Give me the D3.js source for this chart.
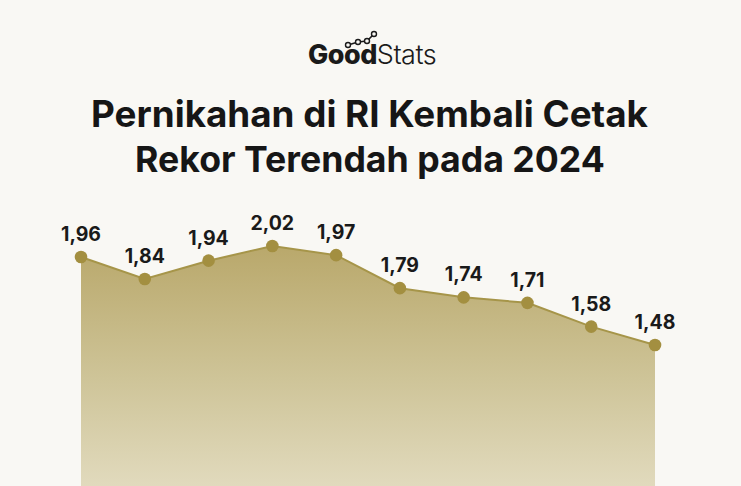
<!DOCTYPE html>
<html><head><meta charset="utf-8">
<script src="https://cdn.jsdelivr.net/npm/d3@7"></script>
<style>
html,body{margin:0;padding:0;background:#f9f8f4;}
svg{display:block;}
</style></head>
<body>
<script>
const years = [2015, 2016, 2017, 2018, 2019, 2020, 2021, 2022, 2023, 2024];
const marriages = [1.96, 1.84, 1.94, 2.02, 1.97, 1.79, 1.74, 1.71, 1.58, 1.48];
const valueLabels = ["1,96", "1,84", "1,94", "2,02", "1,97", "1,79", "1,74", "1,71", "1,58", "1,48"];
const titleLines = ["Pernikahan di RI Kembali Cetak", "Rekor Terendah pada 2024"];

const W = 741, H = 486;
const data = years.map((y, i) => ({year: y, value: marriages[i], label: valueLabels[i]}));

const svg = d3.select("body").append("svg").attr("width", W).attr("height", H);
svg.append("rect").attr("width", W).attr("height", H).attr("fill", "#f9f8f4");

const x = d3.scalePoint().domain(years).range([81, 655]);
const y = d3.scaleLinear().domain([1.48, 2.02]).range([345, 246]);

const defs = svg.append("defs");
const grad = defs.append("linearGradient").attr("id", "areaGrad")
  .attr("gradientUnits", "userSpaceOnUse").attr("x1", 0).attr("x2", 0).attr("y1", 246).attr("y2", H);
grad.append("stop").attr("offset", "0%").attr("stop-color", "#b9a86b");
grad.append("stop").attr("offset", "55%").attr("stop-color", "#cec498");
grad.append("stop").attr("offset", "100%").attr("stop-color", "#e1dabd");

// Logo
const logo = svg.append("g");
const logoText = logo.append("text").attr("x", 308).attr("y", 64).attr("text-anchor", "start")
  .attr("font-family", "Inter, 'Open Sans', sans-serif").attr("font-size", 26).attr("fill", "#1a1a1a")
  .attr("letter-spacing", "-0.5");
logoText.append("tspan").attr("font-weight", 800).text("Good");
logoText.append("tspan").attr("font-weight", 300).text("Stats");
{
  const len = logoText.node().getComputedTextLength();
  logoText.attr("font-size", 26 * 128 / len);
}
const iconPts = [[348, 45], [358, 42], [367, 41], [374, 34]];
logo.append("path").attr("d", d3.line()(iconPts)).attr("fill", "none").attr("stroke", "#1a1a1a").attr("stroke-width", 1.6);
logo.selectAll("circle").data(iconPts).join("circle")
  .attr("cx", d => d[0]).attr("cy", d => d[1]).attr("r", 2.5)
  .attr("fill", "#f9f8f4").attr("stroke", "#1a1a1a").attr("stroke-width", 1.4);

// Title
const titleYs = [127, 172];
const titleTargets = [[91, 648], [135, 605]];
titleLines.forEach((t, i) => {
  const tx = svg.append("text").attr("x", (titleTargets[i][0] + titleTargets[i][1]) / 2).attr("y", titleYs[i])
    .attr("text-anchor", "middle").attr("font-family", "Inter, 'Open Sans', sans-serif")
    .attr("font-weight", 700).attr("font-size", 31).attr("fill", "#161616").text(t);
  const target = titleTargets[i][1] - titleTargets[i][0];
  const len = tx.node().getComputedTextLength();
  tx.attr("font-size", 31 * target / len);
});

// Area
const area = d3.area().x(d => x(d.year)).y0(H).y1(d => y(d.value));
svg.append("path").datum(data).attr("d", area).attr("fill", "url(#areaGrad)");

const line = d3.line().x(d => x(d.year)).y(d => y(d.value));
svg.append("path").datum(data).attr("d", line).attr("fill", "none")
  .attr("stroke", "#a69549").attr("stroke-width", 2);

svg.selectAll(".pt").data(data).join("circle").attr("class", "pt")
  .attr("cx", d => x(d.year)).attr("cy", d => y(d.value)).attr("r", 6.3)
  .attr("fill", "#a38f40");

svg.selectAll(".lbl").data(data).join("text").attr("class", "lbl")
  .attr("x", d => x(d.year)).attr("y", d => y(d.value) - 16)
  .attr("text-anchor", "middle").attr("font-family", "Inter, 'Open Sans', sans-serif")
  .attr("font-weight", 700).attr("font-size", 19.5).attr("fill", "#1a1a1a")
  .text(d => d.label);
</script>
</body></html>
